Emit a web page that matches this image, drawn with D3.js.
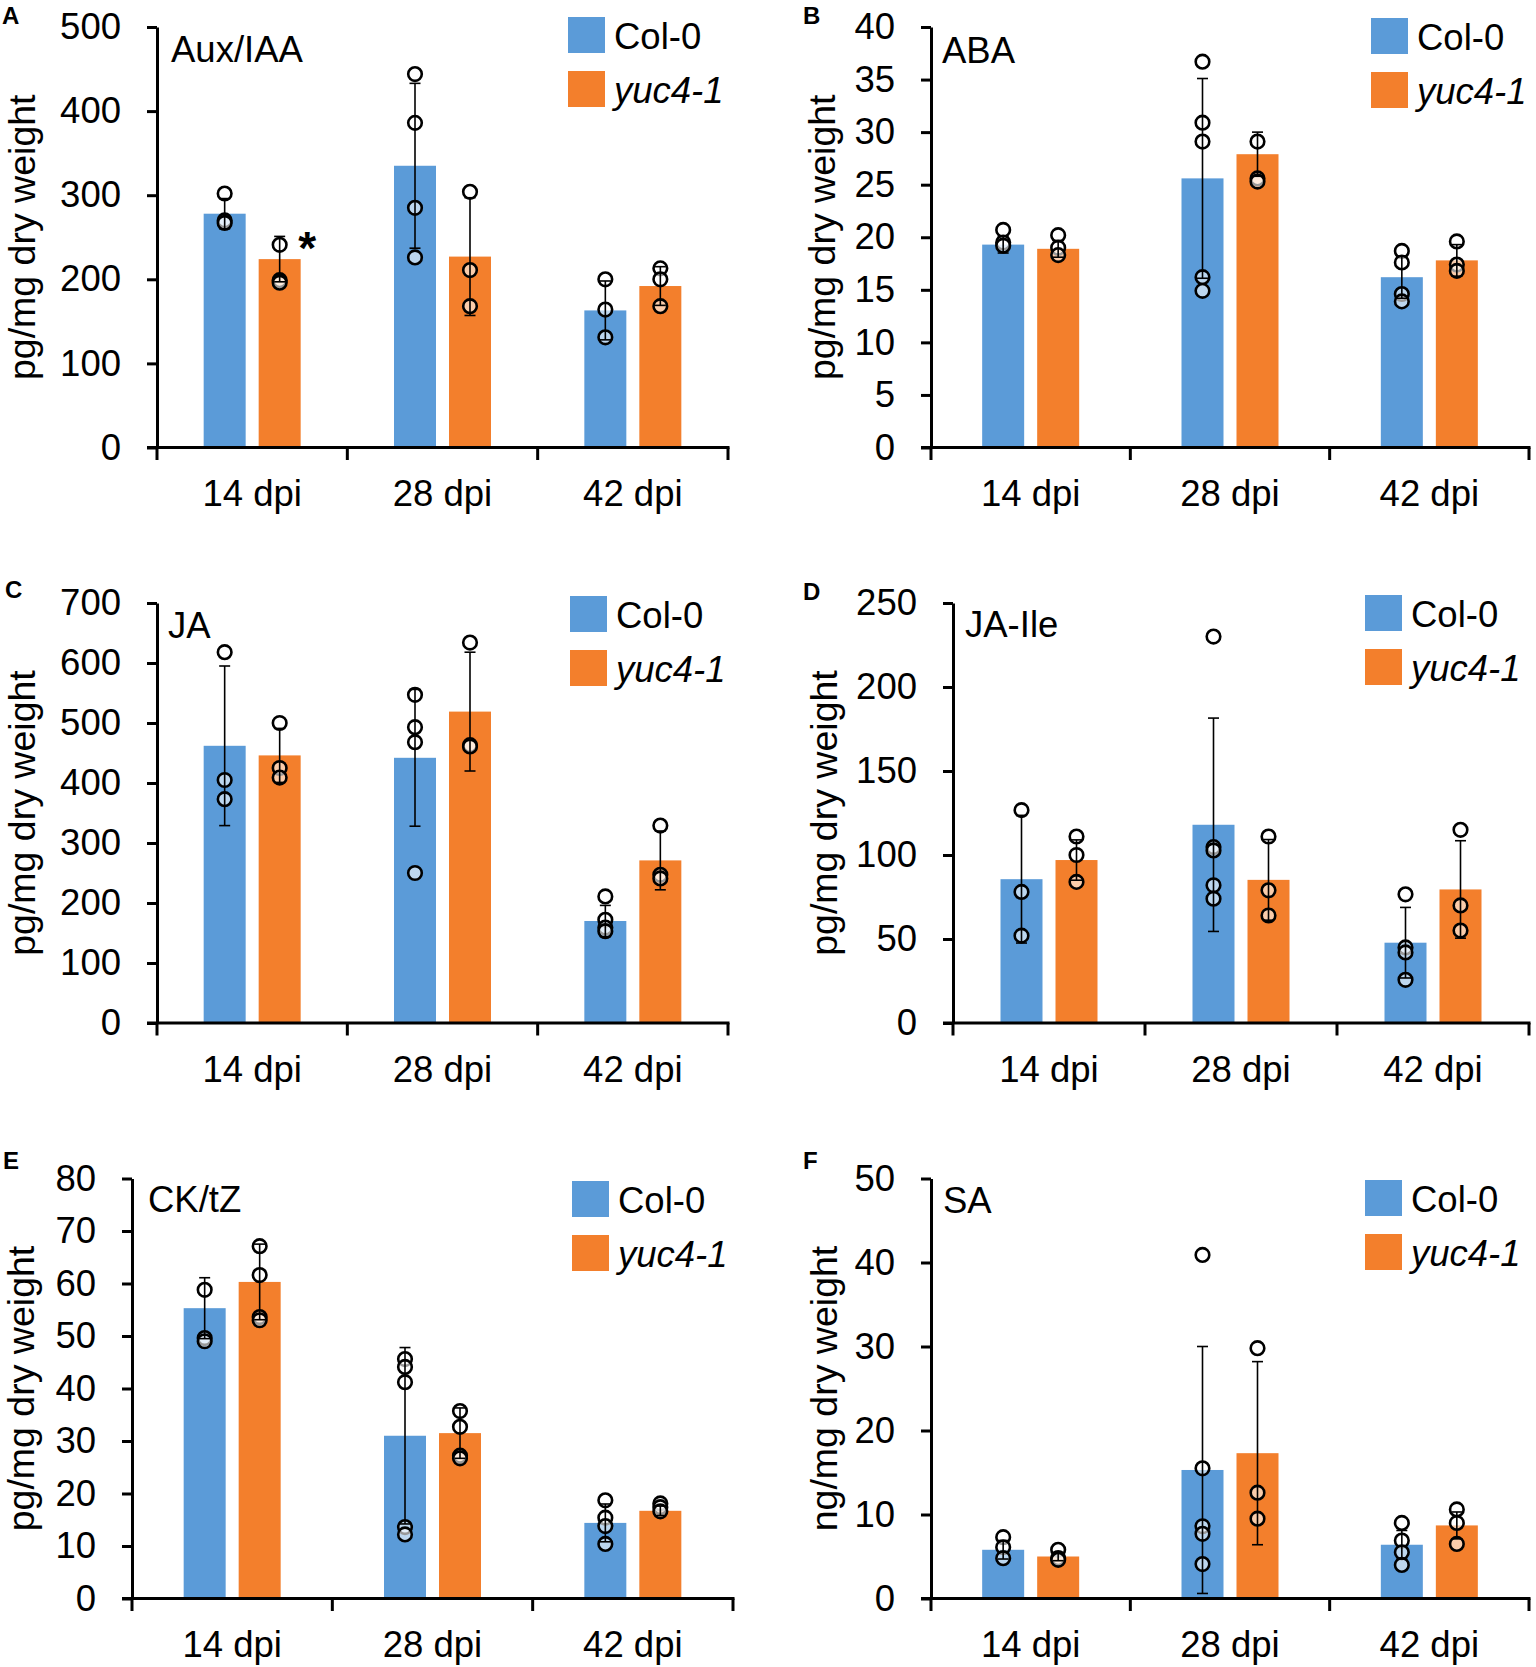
<!DOCTYPE html>
<html>
<head>
<meta charset="utf-8">
<script src="https://cdn.jsdelivr.net/npm/d3@7"></script>
<style>
  html, body { margin: 0; padding: 0; background: #ffffff; }
  svg { display: block; }
  text { font-family: "Liberation Sans", Arial, sans-serif; fill: #000; }
</style>
</head>
<body>
<svg id="chart" width="1536" height="1667"></svg>
<script>
// ---------- DATA ----------
const categories = ["14 dpi", "28 dpi", "42 dpi"];
const seriesNames = ["Col-0", "yuc4-1"];

// A: Aux/IAA
const auxTicks = [0, 100, 200, 300, 400, 500];
const auxColMean = [278, 335, 163];
const auxColSD = [18, 98, 35];
const auxYucMean = [224, 227, 192];
const auxYucSD = [27, 70, 23];
const auxColPts = [[302, 270, 267], [444, 386, 285, 226], [200, 164, 131]];
const auxYucPts = [[241, 199, 196], [304, 211, 168], [213, 200, 168]];

// B: ABA
const abaTicks = [0, 5, 10, 15, 20, 25, 30, 35, 40];
const abaColMean = [19.3, 25.6, 16.2];
const abaColSD = [0.8, 9.5, 2.0];
const abaYucMean = [18.9, 27.9, 17.8];
const abaYucSD = [0.8, 2.1, 1.5];
const abaColPts = [[20.7, 19.5, 19.2], [36.7, 30.9, 29.1, 16.2, 14.9], [18.7, 17.6, 14.6, 13.9]];
const abaYucPts = [[20.2, 19.0, 18.3], [29.1, 25.6, 25.3], [19.6, 17.4, 16.8]];

// C: JA
const jaTicks = [0, 100, 200, 300, 400, 500, 600, 700];
const jaColMean = [462, 442, 170];
const jaColSD = [133, 114, 26];
const jaYucMean = [446, 519, 271];
const jaYucSD = [45, 99, 49];
const jaColPts = [[618, 405, 373], [547, 493, 468, 250], [211, 172, 159, 153]];
const jaYucPts = [[500, 425, 409], [634, 463, 461], [329, 247, 241]];

// D: JA-Ile
const jaIleTicks = [0, 50, 100, 150, 200, 250];
const jaIleColMean = [85.6, 118, 47.8];
const jaIleColSD = [38, 63.5, 21];
const jaIleYucMean = [97, 85.2, 79.5];
const jaIleYucSD = [12, 24, 29];
const jaIleColPts = [[126.7, 78, 52], [230, 104.7, 102.7, 82, 74], [76.6, 45, 42, 25.7]];
const jaIleYucPts = [[111, 100, 84], [111, 79, 64], [115, 70, 55]];

// E: CK/tZ
const ckTicks = [0, 10, 20, 30, 40, 50, 60, 70, 80];
const ckColMean = [55.3, 31.0, 14.4];
const ckColSD = [5.8, 16.8, 3.6];
const ckYucMean = [60.3, 31.5, 16.7];
const ckYucSD = [7.2, 4.8, 0.9];
const ckColPts = [[58.8, 49.6, 49.0], [45.6, 44.1, 41.2, 13.6, 12.2], [18.7, 15.4, 13.8, 10.4]];
const ckYucPts = [[67.1, 61.6, 53.6, 53.0], [35.7, 32.7, 27.2, 26.7], [18.1, 17.4, 16.6]];

// F: SA
const saTicks = [0, 10, 20, 30, 40, 50];
const saColMean = [5.8, 15.3, 6.4];
const saColSD = [1.1, 14.7, 1.7];
const saYucMean = [5.0, 17.3, 8.7];
const saYucSD = [0.5, 10.9, 1.6];
const saColPts = [[7.3, 6.1, 4.8], [40.9, 15.5, 8.6, 7.7, 4.1], [9.0, 6.9, 5.5, 4.0]];
const saYucPts = [[5.8, 4.8, 4.6], [29.8, 12.6, 9.5], [10.6, 9.0, 6.5]];

// ---------- STYLE / LAYOUT ----------
const colors = { "Col-0": "#5b9bd8", "yuc4-1": "#f37f2c" };
const FONT = 36.5;

const panels = [
  { letter: "A", title: "Aux/IAA", ylab: "pg/mg dry weight", ticks: auxTicks,
    mean: [auxColMean, auxYucMean], sd: [auxColSD, auxYucSD], pts: [auxColPts, auxYucPts],
    x0: 157, x1: 728, yTop: 27, yBot: 447.5, letterXY: [2, 24], titleXY: [171, 62],
    legXY: [568, 17], ylabX: 35 },
  { letter: "B", title: "ABA", ylab: "pg/mg dry weight", ticks: abaTicks,
    mean: [abaColMean, abaYucMean], sd: [abaColSD, abaYucSD], pts: [abaColPts, abaYucPts],
    x0: 931, x1: 1529, yTop: 27, yBot: 447.5, letterXY: [803, 24], titleXY: [942, 63],
    legXY: [1371, 18], ylabX: 835 },
  { letter: "C", title: "JA", ylab: "pg/mg dry weight", ticks: jaTicks,
    mean: [jaColMean, jaYucMean], sd: [jaColSD, jaYucSD], pts: [jaColPts, jaYucPts],
    x0: 157, x1: 728, yTop: 603, yBot: 1023, letterXY: [5, 598], titleXY: [168, 637.5],
    legXY: [570, 596], ylabX: 35 },
  { letter: "D", title: "JA-Ile", ylab: "pg/mg dry weight", ticks: jaIleTicks,
    mean: [jaIleColMean, jaIleYucMean], sd: [jaIleColSD, jaIleYucSD], pts: [jaIleColPts, jaIleYucPts],
    x0: 953, x1: 1529, yTop: 603, yBot: 1023, letterXY: [803, 600], titleXY: [965, 637],
    legXY: [1365, 595], ylabX: 837 },
  { letter: "E", title: "CK/tZ", ylab: "pg/mg dry weight", ticks: ckTicks,
    mean: [ckColMean, ckYucMean], sd: [ckColSD, ckYucSD], pts: [ckColPts, ckYucPts],
    x0: 132, x1: 733, yTop: 1178.5, yBot: 1598.5, letterXY: [3, 1169], titleXY: [148, 1212],
    legXY: [572, 1181], ylabX: 34 },
  { letter: "F", title: "SA", ylab: "ng/mg dry weight", ticks: saTicks,
    mean: [saColMean, saYucMean], sd: [saColSD, saYucSD], pts: [saColPts, saYucPts],
    x0: 931, x1: 1529, yTop: 1178.5, yBot: 1598.5, letterXY: [803, 1169], titleXY: [943, 1212.5],
    legXY: [1365, 1180], ylabX: 837 }
];

const svg = d3.select("#chart");
svg.append("rect").attr("width", 1536).attr("height", 1667).attr("fill", "#fff");

panels.forEach(p => {
  const g = svg.append("g");
  const x = d3.scaleBand().domain(categories).range([p.x0, p.x1]).padding(0);
  const xs = d3.scaleBand().domain(seriesNames).range([-48.5, 48.5]).paddingInner(0.2364).paddingOuter(0);
  const y = d3.scaleLinear().domain([0, d3.max(p.ticks)]).range([p.yBot, p.yTop]);

  // bars
  seriesNames.forEach((s, si) => {
    g.selectAll(null).data(categories).enter().append("rect")
      .attr("x", c => x(c) + x.bandwidth() / 2 + xs(s))
      .attr("y", (c, i) => y(p.mean[si][i]))
      .attr("width", xs.bandwidth())
      .attr("height", (c, i) => y(0) - y(p.mean[si][i]))
      .attr("fill", colors[s]);
  });

  // points and error bars
  seriesNames.forEach((s, si) => {
    categories.forEach((c, i) => {
      const cx = x(c) + x.bandwidth() / 2 + xs(s) + xs.bandwidth() / 2;
      g.selectAll(null).data(p.pts[si][i]).enter().append("circle")
        .attr("cx", cx).attr("cy", v => y(v)).attr("r", 6.8)
        .attr("fill", "#fff").attr("fill-opacity", 0.6)
        .attr("stroke", "#000").attr("stroke-width", 2.6);
      const m = p.mean[si][i], sd = p.sd[si][i];
      const lo = Math.max(0, m - sd), hi = m + sd;
      g.append("line").attr("x1", cx).attr("x2", cx).attr("y1", y(lo)).attr("y2", y(hi))
        .attr("stroke", "#000").attr("stroke-width", 1.6);
      [lo, hi].forEach(v => {
        g.append("line").attr("x1", cx - 5.5).attr("x2", cx + 5.5).attr("y1", y(v)).attr("y2", y(v))
          .attr("stroke", "#000").attr("stroke-width", 1.6);
      });
    });
  });

  // y axis
  const yAxis = d3.axisLeft(y).tickValues(p.ticks).tickSize(10).tickSizeOuter(0).tickPadding(26)
    .tickFormat(d3.format("d"));
  const ya = g.append("g").attr("transform", `translate(${p.x0},0)`).call(yAxis);
  ya.select(".domain").attr("stroke", "#000").attr("stroke-width", 3);
  ya.selectAll(".tick line").attr("stroke", "#000").attr("stroke-width", 3);
  ya.selectAll(".tick text").attr("font-size", FONT).attr("fill", "#000")
    .attr("font-family", '"Liberation Sans", Arial, sans-serif');

  // x axis line and boundary ticks
  g.append("line").attr("x1", p.x0 - 10).attr("x2", p.x1 + 1.5).attr("y1", y(0)).attr("y2", y(0))
    .attr("stroke", "#000").attr("stroke-width", 3);
  const bounds = categories.map(c => x(c)).concat([x.range()[1]]);
  g.selectAll(null).data(bounds).enter().append("line")
    .attr("x1", d => d).attr("x2", d => d).attr("y1", y(0)).attr("y2", y(0) + 12.5)
    .attr("stroke", "#000").attr("stroke-width", 3);

  // category labels
  g.selectAll(null).data(categories).enter().append("text")
    .attr("x", c => x(c) + x.bandwidth() / 2).attr("y", y(0) + 58.5)
    .attr("text-anchor", "middle").attr("font-size", FONT).text(c => c);

  // y label
  g.append("text")
    .attr("transform", `translate(${p.ylabX},${(p.yTop + p.yBot) / 2}) rotate(-90)`)
    .attr("text-anchor", "middle").attr("font-size", 37.5).text(p.ylab);

  // panel letter
  g.append("text").attr("x", p.letterXY[0]).attr("y", p.letterXY[1])
    .attr("font-size", 24).attr("font-weight", "bold").text(p.letter);

  // panel title
  g.append("text").attr("x", p.titleXY[0]).attr("y", p.titleXY[1])
    .attr("font-size", FONT).text(p.title);

  // legend
  seriesNames.forEach((s, si) => {
    const ly = p.legXY[1] + si * 54;
    g.append("rect").attr("x", p.legXY[0]).attr("y", ly).attr("width", 37).attr("height", 36)
      .attr("fill", colors[s]);
    g.append("text").attr("x", p.legXY[0] + 46).attr("y", ly + 32)
      .attr("font-size", FONT).attr("font-style", si === 1 ? "italic" : "normal").text(s);
  });

  // significance star (panel A, yuc4-1 at 14 dpi)
  if (p.letter === "A") {
    const sx = x(categories[0]) + x.bandwidth() / 2 + xs(seriesNames[1]) + xs.bandwidth() - 2.5;
    g.append("text").attr("x", sx).attr("y", y(p.mean[1][0] + p.sd[1][0]) + 28)
      .attr("font-size", 46).attr("font-weight", "bold").text("*");
  }
});
</script>
</body>
</html>
